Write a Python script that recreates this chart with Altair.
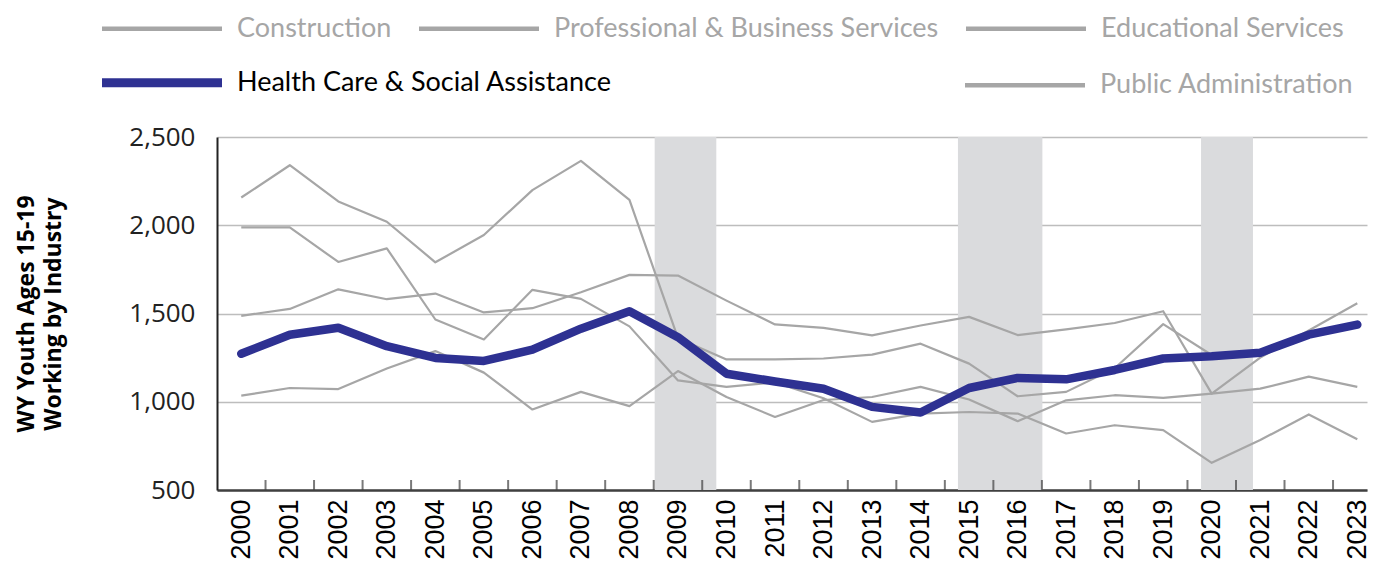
import altair as alt
import pandas as pd

years = list(range(2000, 2024))
construction = [2157, 2340, 2135, 2020, 1790, 1945, 2199, 2365, 2144, 1360, 1240, 1240, 1245, 1267,
                1329, 1216, 1031, 1056, 1190, 1440, 1265, 1280, 1385, 1440]
prof_business = [1988, 1988, 1792, 1869, 1466, 1353, 1634, 1583, 1427, 1121, 1084, 1110, 1020, 886,
                 933, 942, 933, 820, 867, 839, 654, 783, 928, 788]
educational = [1035, 1078, 1072, 1188, 1287, 1165, 956, 1056, 975, 1174, 1027, 914, 1010, 1027,
               1084, 1013, 890, 1008, 1037, 1022, 1046, 1074, 1142, 1084]
health_care = [1272, 1380, 1419, 1315, 1248, 1231, 1295, 1414, 1513, 1366, 1159, 1115, 1074, 971,
               939, 1078, 1135, 1127, 1180, 1245, 1258, 1278, 1380, 1437]
public_admin = [1487, 1526, 1637, 1581, 1613, 1506, 1530, 1620, 1719, 1715, 1573, 1438, 1419, 1376,
                1432, 1481, 1378, 1410, 1446, 1513, 1046, 1250, 1404, 1558]

row1_names = ["Construction", "Professional & Business Services", "Educational Services"]
row1_values = [construction, prof_business, educational]
row2_names = ["Health Care & Social Assistance", "Public Administration"]
row2_values = [health_care, public_admin]

band_start = [2008.52, 2014.77, 2019.78]
band_end = [2009.79, 2016.51, 2020.85]

y_ticks = [500, 1000, 1500, 2000, 2500]

GRAY = "#a6a6a6"
BLUE = "#2e3192"
HEALTH = "Health Care & Social Assistance"
LINE_SYMBOL = "M-6,0H6"


def long_table(names, values):
    rows = []
    for name, vals in zip(names, values):
        for yr, v in zip(years, vals):
            rows.append({"year": yr, "value": v, "series": name})
    return pd.DataFrame(rows)


df1 = long_table(row1_names, row1_values)
df2 = long_table(row2_names, row2_values)

bands = pd.DataFrame({"start": band_start, "end": band_end})
ticks = pd.DataFrame({"tick": [y + 0.5 for y in years[:-1]]})

x_scale = alt.Scale(domain=[1999.5, 2023.2], nice=False, zero=False)
y_scale = alt.Scale(domain=[500, 2500], nice=False, zero=False)

x_axis = alt.Axis(values=years, format="d", labelAngle=270, labelAlign="right",
                  labelBaseline="middle", labelFont="Liberation Sans", labelFontSize=27,
                  labelColor="#000000", ticks=False, grid=False, domainColor="#404040",
                  domainWidth=2.5, labelPadding=9, title=None, labelOverlap=False,
                  labelFlush=False)
y_axis = alt.Axis(values=y_ticks, format=",d", labelFont="Open Sans", labelFontSize=26,
                  labelColor="#222222", ticks=False, grid=True, gridColor="#bdbdbd",
                  gridWidth=1.5, domainColor="#222222", domainWidth=2, labelPadding=22,
                  title=["WY Youth Ages 15-19", "Working by Industry"], titleFont="Open Sans",
                  titleFontSize=23, titleFontWeight="bold", titleColor="#000000",
                  titleLineHeight=27, titlePadding=63)

common_legend = dict(
    title=None, orient="none", legendX=-115, direction="horizontal",
    symbolType=LINE_SYMBOL, symbolSize=400, symbolOffset=46.5,
    labelFont="Lato", labelFontSize=27, labelOffset=61.5, labelLimit=0,
)

legend1 = alt.Legend(legendY=-122, columnPadding=18, symbolStrokeWidth=4.5,
                     labelColor=GRAY, **common_legend)
legend2 = alt.Legend(
    legendY=-68, columnPadding=344,
    symbolStrokeWidth={"expr": "datum.label == '" + HEALTH + "' ? 9 : 4.5"},
    labelColor={"expr": "datum.label == '" + HEALTH + "' ? '#000000' : '#a6a6a6'"},
    **common_legend,
)

color_enc = alt.Color("series:N", scale=alt.Scale(domain=row1_names, range=[GRAY] * 3),
                      legend=legend1)
stroke_enc = alt.Stroke("series:N", scale=alt.Scale(domain=row2_names, range=[BLUE, GRAY]),
                        legend=legend2)

band_layer = alt.Chart(bands).mark_rect(color="#dadbdd").encode(
    x=alt.X("start:Q", scale=x_scale, axis=x_axis),
    x2="end:Q",
    y=alt.datum(500, scale=y_scale, axis=y_axis),
    y2=alt.datum(2500),
)

gray_layer = alt.Chart(df1).mark_line(strokeWidth=2.2, strokeJoin="round").encode(
    x=alt.X("year:Q", scale=x_scale, axis=x_axis),
    y=alt.Y("value:Q", scale=y_scale, axis=y_axis),
    color=color_enc,
)

public_layer = alt.Chart(df2).transform_filter(
    alt.datum.series != HEALTH
).mark_line(strokeWidth=2.2, strokeJoin="round").encode(
    x=alt.X("year:Q", scale=x_scale, axis=x_axis),
    y=alt.Y("value:Q", scale=y_scale, axis=y_axis),
    stroke=stroke_enc,
)

tick_layer = alt.Chart(ticks).mark_tick(orient="vertical", size=10, thickness=2,
                                         yOffset=-5, color="#404040").encode(
    x=alt.X("tick:Q", scale=x_scale, axis=x_axis),
    y=alt.datum(500),
)

blue_layer = alt.Chart(df2).transform_filter(
    alt.datum.series == HEALTH
).mark_line(strokeWidth=8.5, strokeCap="round", strokeJoin="round").encode(
    x=alt.X("year:Q", scale=x_scale, axis=x_axis),
    y=alt.Y("value:Q", scale=y_scale, axis=y_axis),
    stroke=stroke_enc,
)

chart = alt.layer(band_layer, gray_layer, public_layer, tick_layer, blue_layer).properties(
    width=1150, height=353,
    padding={"left": 7, "top": 7, "right": 0, "bottom": 0},
    background="#ffffff",
).configure_view(stroke=None)

chart.save("out.html", embed_options={"renderer": "svg", "actions": False})
